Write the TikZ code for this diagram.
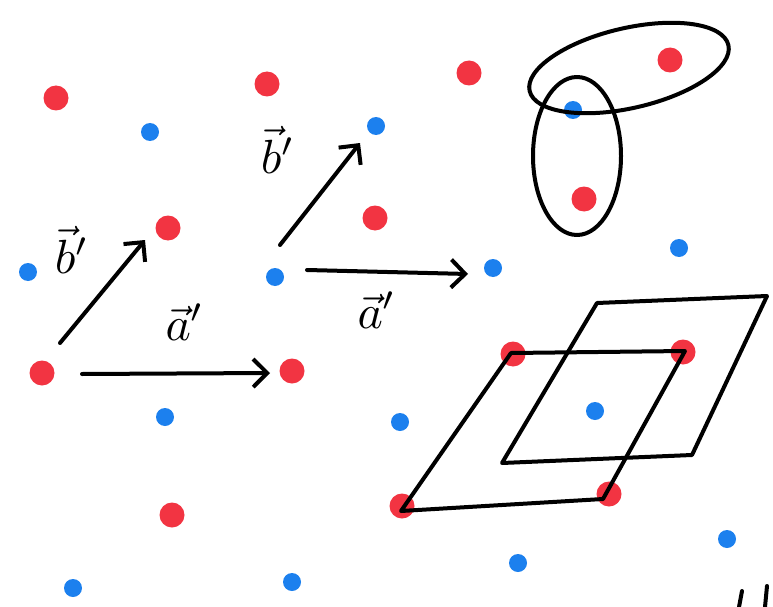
\documentclass[tikz,border=0pt]{standalone}
\usetikzlibrary{arrows.meta}
\definecolor{dotred}{RGB}{242,52,66}
\definecolor{dotblue}{RGB}{28,128,238}
\tikzset{
  rdot/.style={circle,fill=dotred,minimum size=25pt,inner sep=0pt},
  bdot/.style={circle,fill=dotblue,minimum size=18pt,inner sep=0pt},
  pen/.style={line width=4pt,line cap=round,line join=round,black},
  vec/.style={pen,-{Straight Barb[length=14pt,width=28pt,line width=4pt]}},
  lbl/.style={inner sep=0pt}
}
\newcommand{\biglbl}[1]{\scalebox{4.8}{$\vec{#1}'$}}
\begin{document}
\begin{tikzpicture}[x=1pt,y=-1pt]
\useasboundingbox (0,0) rectangle (773,607);
% red dots
\node[rdot] (r1) at (56,98) {};
\node[rdot] (r2) at (267,84) {};
\node[rdot] (r3) at (469,73) {};
\node[rdot] (r4) at (670,60) {};
\node[rdot] (r5) at (168,228) {};
\node[rdot] (r6) at (375,218) {};
\node[rdot] (r7) at (584,199) {};
\node[rdot] (r8) at (42,373) {};
\node[rdot] (r9) at (292,371) {};
\node[rdot] (r10) at (513,354) {};
\node[rdot] (r11) at (683,352) {};
\node[rdot] (r12) at (172,515) {};
\node[rdot] (r13) at (402,506) {};
\node[rdot] (r14) at (609,494) {};
% blue dots
\node[bdot] (b1) at (150,132) {};
\node[bdot] (b2) at (376,126) {};
\node[bdot] (b3) at (573,110) {};
\node[bdot] (b4) at (28,272) {};
\node[bdot] (b5) at (275,277) {};
\node[bdot] (b6) at (493,268) {};
\node[bdot] (b7) at (679,248) {};
\node[bdot] (b8) at (165,417) {};
\node[bdot] (b9) at (400,422) {};
\node[bdot] (b10) at (595,411) {};
\node[bdot] (b11) at (73,588) {};
\node[bdot] (b12) at (292,582) {};
\node[bdot] (b13) at (518,563) {};
\node[bdot] (b14) at (727,539) {};
% arrow end points
\coordinate (p1) at (60,343);
\coordinate (q1) at (145,240);
\coordinate (p2) at (82,374);
\coordinate (q2) at (270,373);
\coordinate (p3) at (280,245);
\coordinate (q3) at (360,143);
\coordinate (p4) at (307,270);
\coordinate (q4) at (468,274);
\draw[vec] (p1) -- (q1);
\draw[vec] (p2) -- (q2);
\draw[vec] (p3) -- (q3);
\draw[vec] (p4) -- (q4);
% labels
\node[lbl] (lb1) at (72,250) {\biglbl{b}};
\node[lbl] (la1) at (185,322) {\biglbl{a}};
\node[lbl] (lb2) at (278,150) {\biglbl{b}};
\node[lbl] (la2) at (377,310) {\biglbl{a}};
% loops
\draw[pen,rotate around={13:(629,68)}] (629,68) ellipse [x radius=102pt, y radius=40pt];
\draw[pen] (577,156) ellipse [x radius=44pt, y radius=79pt];
% parallelograms
\coordinate (c1) at (511,353);
\coordinate (c2) at (685,351);
\coordinate (c3) at (603,499);
\coordinate (c4) at (401,511);
\draw[pen] (c1) -- (c2) -- (c3) -- (c4) -- cycle;
\coordinate (d1) at (597,303);
\coordinate (d2) at (767,296);
\coordinate (d3) at (692,455);
\coordinate (d4) at (502,463);
\draw[pen] (d1) -- (d2) -- (d3) -- (d4) -- cycle;
% cut-off stroke at bottom right
\coordinate (u1) at (742,591);
\coordinate (u2) at (739,607);
\coordinate (u3) at (767,586);
\coordinate (u4) at (765,607);
\draw[pen] (u1) -- (u2);
\draw[pen] (u3) -- (u4);
\end{tikzpicture}
\end{document}
